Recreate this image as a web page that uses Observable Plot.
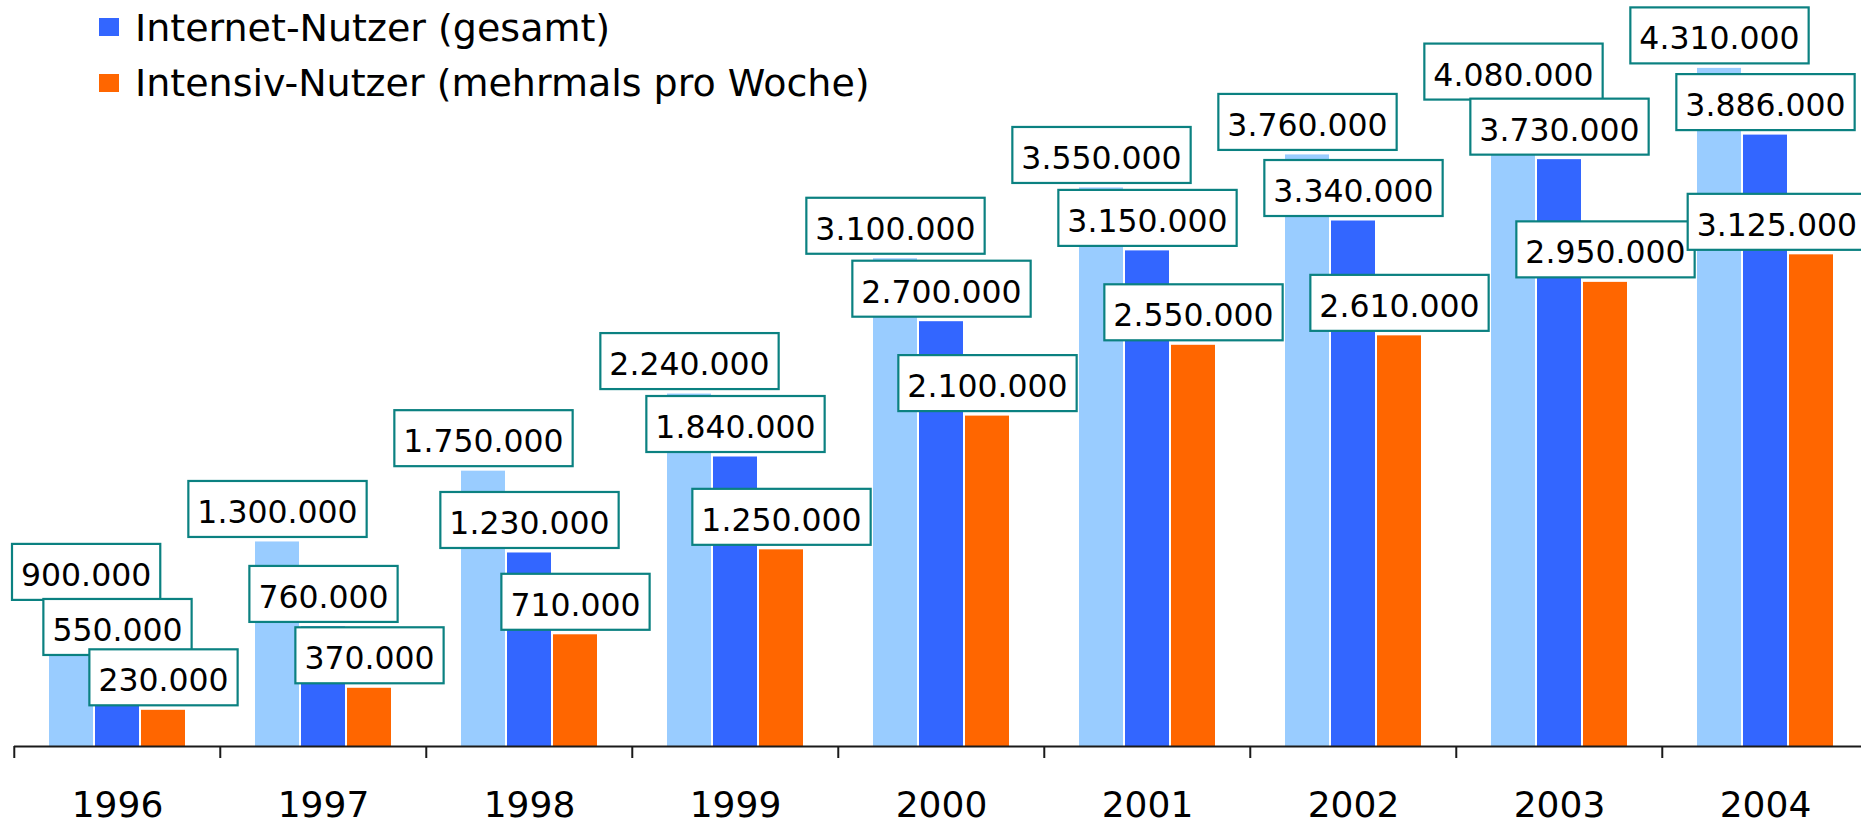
<!DOCTYPE html>
<html><head><meta charset="utf-8">
<script src="https://cdn.jsdelivr.net/npm/d3@7"></script>
<script src="https://cdn.jsdelivr.net/npm/@observablehq/plot@0.6"></script>
<style>
html,body{margin:0;padding:0;background:#fff;overflow:hidden;}
#wrap{position:relative;width:1861px;height:823px;overflow:hidden;font-family:"DejaVu Sans";}
#legend{position:absolute;left:0;top:0;}
.row{position:absolute;white-space:nowrap;font-size:38px;line-height:38px;color:#000;}
.sw{position:absolute;width:20px;height:18px;}
</style></head><body>
<div id="wrap"><div id="chart"></div><div id="legend"></div></div>
<script>
// ---- data ----
const years = [1996, 1997, 1998, 1999, 2000, 2001, 2002, 2003, 2004];
const seriesKeys = ["hell", "gesamt", "intensiv"];
const seriesColors = ["#99CCFF", "#3366FF", "#FF6600"];
const lightValues = [900000, 1300000, 1750000, 2240000, 3100000, 3550000, 3760000, 4080000, 4310000];
const totalValues = [550000, 760000, 1230000, 1840000, 2700000, 3150000, 3340000, 3730000, 3886000];
const intensiveValues = [230000, 370000, 710000, 1250000, 2100000, 2550000, 2610000, 2950000, 3125000];
const legendKeys = ["gesamt", "intensiv"];
const legendLabels = ["Internet-Nutzer (gesamt)", "Intensiv-Nutzer (mehrmals pro Woche)"];

const de = d3.formatLocale({decimal: ",", thousands: ".", grouping: [3], currency: ["", " €"]});
const fmt = de.format(",d");
const seriesValues = [lightValues, totalValues, intensiveValues];
const rows = [];
years.forEach((yr, i) => seriesKeys.forEach((k, s) => {
  rows.push({year: yr, series: k, value: seriesValues[s][i], label: fmt(seriesValues[s][i])});
}));

// ---- layout ----
const W = 1861, H = 823;
const mLeft = 12, mRight = -9;
const step = (W - mRight - mLeft) / years.length;
const labelFont = 31.5;

const measureCtx = document.createElement("canvas").getContext("2d");
measureCtx.font = labelFont + "px 'DejaVu Sans'";

function boxed(index, scales, values, dimensions, context, next) {
  const g = next(index, scales, values, dimensions, context);
  if (!g) return g;
  g.querySelectorAll("text").forEach(t => {
    let x = 0, y = 0;
    const tr = t.getAttribute("transform");
    const m = tr && tr.match(/translate\(\s*([-\d.e]+)[\s,]+([-\d.e]+)\s*\)/);
    if (m) { x = +m[1]; y = +m[2]; }
    else { x = +(t.getAttribute("x") || 0); y = +(t.getAttribute("y") || 0); }
    const w = measureCtx.measureText(t.textContent).width + 18;
    const r = document.createElementNS("http://www.w3.org/2000/svg", "rect");
    r.setAttribute("class", "lblbox");
    r.setAttribute("x", x - w / 2);
    r.setAttribute("y", y - 4 - 28);
    r.setAttribute("width", w);
    r.setAttribute("height", 56);
    r.setAttribute("fill", "#fff");
    r.setAttribute("stroke", "#0b8181");
    r.setAttribute("stroke-width", 2.2);
    t.parentNode.insertBefore(r, t);
  });
  return g;
}

const labelMarks = seriesKeys.map(k => Plot.text(rows.filter(r => r.series === k), {
  fx: "year", x: "series", y: "value", text: "label",
  dy: -29, fontSize: labelFont, fill: "#000", render: boxed
}));

const chart = Plot.plot({
  width: W, height: H,
  marginLeft: mLeft, marginRight: mRight, marginTop: 38, marginBottom: 77,
  style: {fontFamily: "DejaVu Sans", background: "#fff", color: "#000"},
  fx: {domain: years, padding: 0, label: null},
  x: {domain: seriesKeys, paddingInner: 0.054, paddingOuter: 0.764, axis: null},
  y: {domain: [0, 4500000], axis: null},
  color: {domain: seriesKeys, range: seriesColors},
  marks: [
    Plot.barY(rows, {fx: "year", x: "series", y: "value", fill: "series"}),
    Plot.ruleY([0], {stroke: "#1a1a1a", strokeWidth: 2}),
    Plot.axisFx({anchor: "bottom", label: null, tickSize: 12, tickFormat: () => "", dx: -step / 2, stroke: "#1a1a1a", strokeWidth: 2}),
    Plot.axisFx({anchor: "bottom", label: null, tickSize: 0, tickPadding: 45, fontSize: 36, fill: "#000", tickFormat: d => String(d)}),
    ...labelMarks
  ]
});
document.getElementById("chart").appendChild(chart);

// keep label boxes inside the chart's horizontal extent (as the original does)
const svgLeft = chart.getBoundingClientRect().left;
chart.querySelectorAll("rect.lblbox").forEach(r => {
  const b = r.getBoundingClientRect();
  const left = b.left - svgLeft, right = b.right - svgLeft;
  let shift = 0;
  if (left < mLeft - 1) shift = mLeft - left;
  else if (right > W - mRight - 4) shift = (W - mRight - 4) - right;
  if (shift) {
    r.setAttribute("x", +r.getAttribute("x") + shift);
    const t = r.nextSibling;
    if (t) t.setAttribute("x", (+(t.getAttribute("x") || 0)) + shift);
  }
});

// ---- legend ----
const legend = document.getElementById("legend");
legendKeys.forEach((k, i) => {
  const top = 8.5 + i * 55.3;
  const sw = document.createElement("div");
  sw.className = "sw";
  sw.style.left = "99px";
  sw.style.top = (18.3 + i * 55.3) + "px";
  sw.style.background = seriesColors[seriesKeys.indexOf(k)];
  legend.appendChild(sw);
  const tx = document.createElement("div");
  tx.className = "row";
  tx.style.left = "135px";
  tx.style.top = top + "px";
  tx.textContent = legendLabels[i];
  legend.appendChild(tx);
});
</script>
</body></html>
